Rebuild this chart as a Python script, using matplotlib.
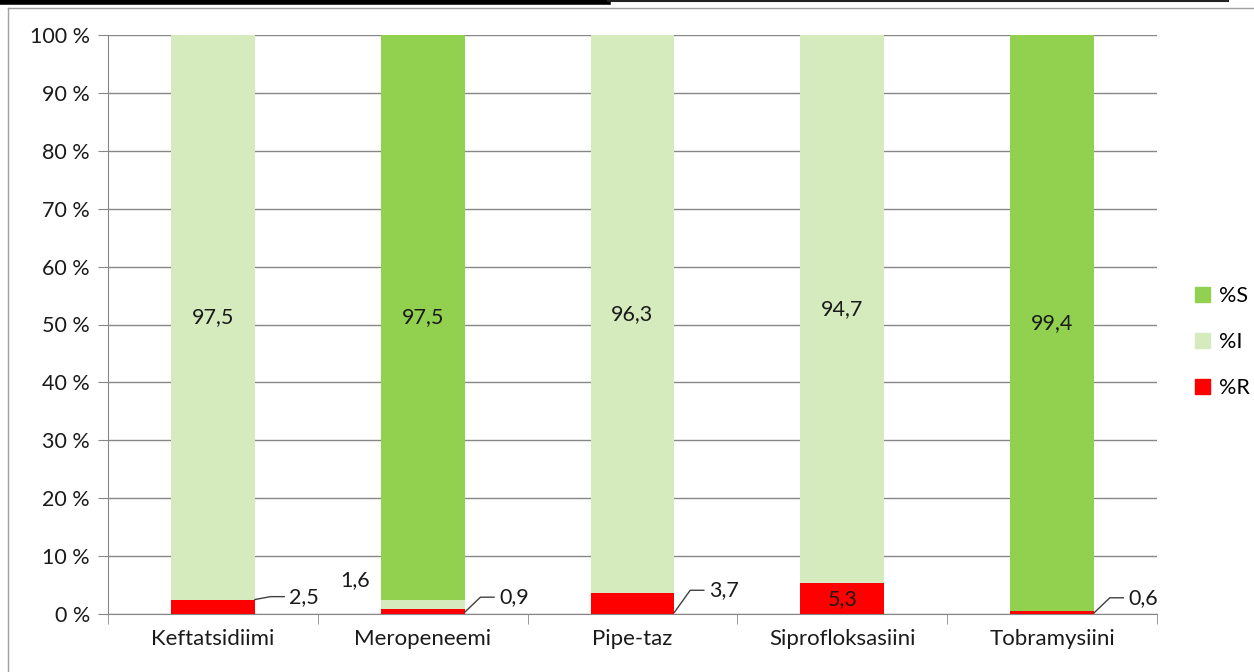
import numpy as np
import matplotlib.pyplot as plt
from matplotlib.lines import Line2D
from matplotlib.patches import Patch

plt.rcParams['font.family'] = ['Lato', 'DejaVu Sans']

categories = ['Keftatsidiimi', 'Meropeneemi', 'Pipe-taz', 'Siprofloksasiini', 'Tobramysiini']
pct_r = [2.5, 0.9, 3.7, 5.3, 0.6]
pct_i = [97.5, 1.6, 96.3, 94.7, 0.0]
pct_s = [0.0, 97.5, 0.0, 0.0, 99.4]

col_s = '#92D050'
col_i = '#D5EBBD'
col_r = '#FF0000'
grid_col = '#878787'
txt_col = '#1a1a1a'

fig = plt.figure(figsize=(12.54, 6.72), dpi=100)
ax = fig.add_axes([108 / 1254, 58 / 672, (1157 - 108) / 1254, (614 - 35) / 672])

x = np.arange(len(categories))
w = 0.4
r = np.array(pct_r)
i = np.array(pct_i)
s = np.array(pct_s)
ax.bar(x, r, w, color=col_r, zorder=3)
ax.bar(x, i, w, bottom=r, color=col_i, zorder=3)
ax.bar(x, s, w, bottom=r + i, color=col_s, zorder=3)

fs = 15.5
fmt = lambda v: f'{v:.1f}'.replace('.', ',')

# big labels centred in segments
for k in range(len(categories)):
    if i[k] > 50:
        ax.text(x[k], r[k] + i[k] / 2, fmt(i[k]), ha='center', va='center', fontsize=fs, color=txt_col, zorder=5)
    if s[k] > 50:
        ax.text(x[k], r[k] + i[k] + s[k] / 2, fmt(s[k]), ha='center', va='center', fontsize=fs, color=txt_col, zorder=5)

# small labels with leader lines
def leader(k, y0, y1, txt):
    xe = x[k] + w / 2
    ax.plot([xe, xe + 0.075, xe + 0.14], [y0, y1, y1], color='#404040', lw=1, zorder=5, clip_on=False)
    ax.text(xe + 0.165, y1, txt, ha='left', va='center', fontsize=fs, color=txt_col, zorder=5)

leader(0, r[0], 3.0, fmt(r[0]))
leader(1, 0.3, 2.9, fmt(r[1]))
leader(2, 0.3, 4.1, fmt(r[2]))
leader(4, 0.2, 2.8, fmt(r[4]))
ax.text(0.677, 5.9, fmt(i[1]), ha='center', va='center', fontsize=fs, color=txt_col, zorder=5)
ax.text(x[3], r[3] / 2, fmt(r[3]), ha='center', va='center', fontsize=fs, color=txt_col, zorder=5)

ax.set_xlim(-0.5, len(categories) - 0.5)
ax.set_ylim(0, 100)
ax.set_yticks(np.arange(0, 101, 10))
ax.set_yticklabels([f'{v} %' for v in range(0, 101, 10)], fontsize=fs, color=txt_col)
ax.set_xticks(x)
ax.set_xticklabels(categories, fontsize=16, color=txt_col)
ax.tick_params(axis='x', length=0, pad=11)
ax.set_xticks(np.arange(-0.5, len(categories), 1), minor=True)
ax.tick_params(axis='x', which='minor', length=7, color=grid_col, direction='out')
ax.tick_params(axis='y', length=7, color=grid_col, pad=6)
ax.grid(axis='y', color=grid_col, lw=1, zorder=0)
for sp in ['top', 'right']:
    ax.spines[sp].set_visible(False)
for sp in ['left', 'bottom']:
    ax.spines[sp].set_color(grid_col)

handles = [Patch(color=col_s, label='%S'), Patch(color=col_i, label='%I'), Patch(color=col_r, label='%R')]
fig.legend(handles=handles, loc='center left', bbox_to_anchor=(1195 / 1254, 1 - 342 / 672),
           frameon=False, fontsize=fs, handlelength=0.7, handleheight=0.7, handletextpad=0.4,
           labelspacing=1.2, borderpad=0, borderaxespad=0)

# outer chart frame and header rules
fy = 1 - 8 / 672
fx = 8 / 1254
fig.add_artist(Line2D([fx, 1], [fy, fy], transform=fig.transFigure, color='#a0a0a0', lw=1))
fig.add_artist(Line2D([fx, fx], [0, fy], transform=fig.transFigure, color='#a0a0a0', lw=1))
fig.add_artist(Line2D([0, 608 / 1254], [1 - 2 / 672, 1 - 2 / 672], transform=fig.transFigure, color='black', lw=4))
fig.add_artist(Line2D([608 / 1254, 1228 / 1254], [1 - 1 / 672, 1 - 1 / 672], transform=fig.transFigure, color='#222222', lw=1.5))

fig.savefig('out.png', dpi=100)
